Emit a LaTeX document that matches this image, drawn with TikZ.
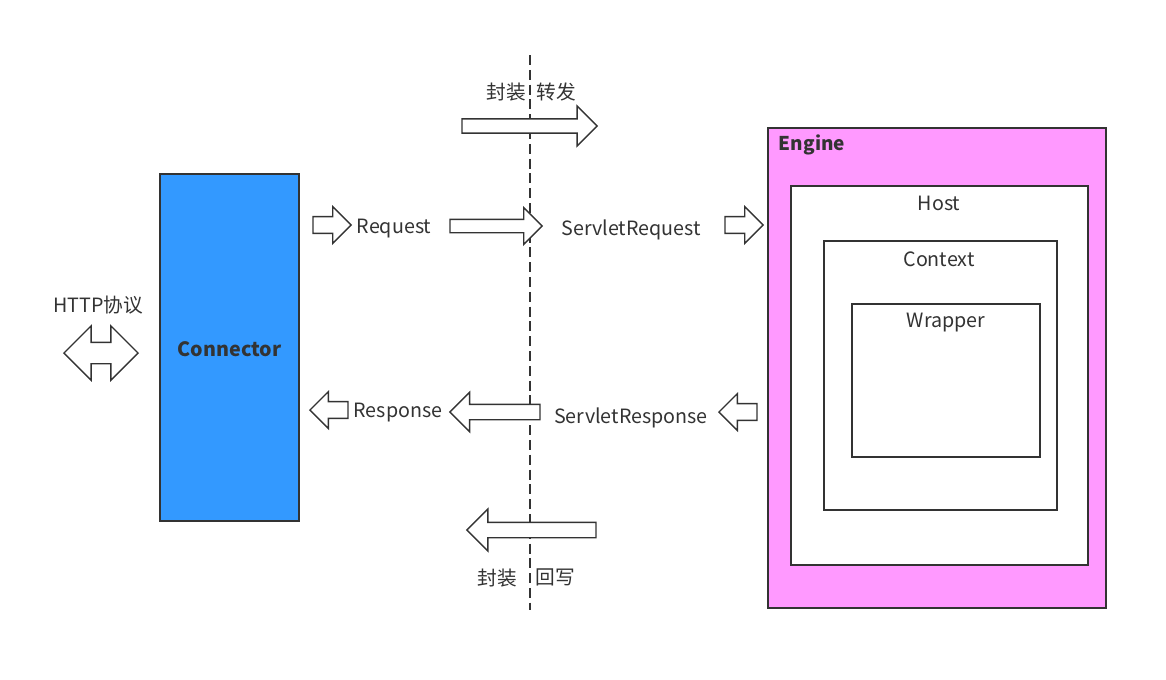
\documentclass[tikz,border=0pt]{standalone}
\usepackage{fontspec}
\setmainfont{Noto Sans CJK SC}
\usepackage{xcolor}
\usetikzlibrary{shapes.arrows,positioning}
\definecolor{connblue}{HTML}{3399FF}
\definecolor{enginepink}{HTML}{FF99FF}
\definecolor{ink}{HTML}{333333}

\begin{document}
\begin{tikzpicture}[
  x=0.025cm,y=-0.025cm,
  every node/.style={text=ink,font=\fontsize{14}{16}\selectfont},
  box/.style={draw=ink,line width=1.2pt,fill=white,outer sep=0pt,anchor=north west},
  blk/.style={single arrow,draw=ink,line width=1pt,fill=white,outer sep=0pt,
    inner sep=0.19cm,single arrow head extend=0.25cm,anchor=tail},
  big blk/.style={blk,inner sep=0.16cm,single arrow head extend=0.32cm},
  to left/.style={shape border rotate=180},
  lbl/.style={inner sep=1pt,yshift=-0.07cm}]
  \useasboundingbox (0,0) rectangle (1166,679);
  % boxes
  \node [box,fill=connblue,minimum width=3.475cm,minimum height=8.675cm] (conn) at (160,174) {};
  \node [font=\fontsize{14}{16}\selectfont\bfseries,yshift=-0.03cm] (conn txt) at (conn.center) {Connector};
  \node [box,fill=enginepink,minimum width=8.45cm,minimum height=12cm] (engine) at (768,128) {};
  \node [font=\fontsize{13.5}{16}\selectfont\bfseries,anchor=west,yshift=-0.05cm] (engine txt) at (774,143) {Engine};
  \node [box,minimum width=7.425cm,minimum height=9.475cm] (host) at (791,186) {};
  \node [lbl] (host txt) at (939,201) {Host};
  \node [box,minimum width=5.825cm,minimum height=6.725cm] (ctx) at (824,241) {};
  \node [lbl] (ctx txt) at (939,256) {Context};
  \node [box,minimum width=4.7cm,minimum height=3.825cm] (wrap) at (852,304) {};
  \node [lbl] (wrap txt) at (946,320) {Wrapper};
  % dashed split line
  \coordinate (cut top) at (530,55);
  \coordinate (cut bot) at (530,610);
  \draw [ink,line width=1.3pt,dash pattern=on 2.5mm off 1.2mm] (cut top) -- (cut bot);
  % top: wrap and forward
  \node [big blk,minimum height=3.375cm] (fwd) at (462,126) {};
  \node [lbl] (wrap a) at (506,89) {封装};
  \node [lbl] (fwd txt) at (556,89) {转发};
  % request row
  \node [blk,minimum height=0.95cm] (req a) at (313,225) {};
  \node [lbl] (req txt) at (394,226) {Request};
  \node [blk,inner sep=0.15cm,single arrow head extend=0.29cm,minimum height=2.3cm] (req b) at (450,226) {};
  \node [lbl] (sreq txt) at (631,227) {ServletRequest};
  \node [blk,minimum height=0.95cm] (req c) at (725,225) {};
  % response row
  \node [blk,to left,minimum height=0.95cm] (resp c) at (757,412) {};
  \node [lbl] (sresp txt) at (631,415) {ServletResponse};
  \node [blk,to left,inner sep=0.175cm,single arrow head extend=0.3cm,minimum height=2.25cm] (resp b) at (540,412) {};
  \node [lbl] (resp txt) at (398,410) {Response};
  \node [blk,to left,minimum height=0.95cm] (resp a) at (348,410) {};
  % bottom: wrap and write back
  \node [big blk,to left,inner sep=0.175cm,single arrow head extend=0.33cm,minimum height=3.225cm] (back) at (596,530) {};
  \node [lbl] (wrap b) at (497,575) {封装};
  \node [lbl] (back txt) at (555,575) {回写};
  % http
  \node [lbl] (http txt) at (98,302) {HTTP协议};
  \node [double arrow,draw=ink,line width=1pt,fill=white,inner sep=0.25cm,
    double arrow head extend=0.41cm,minimum height=1.85cm] (http) at (101,353) {};
\end{tikzpicture}
\end{document}
